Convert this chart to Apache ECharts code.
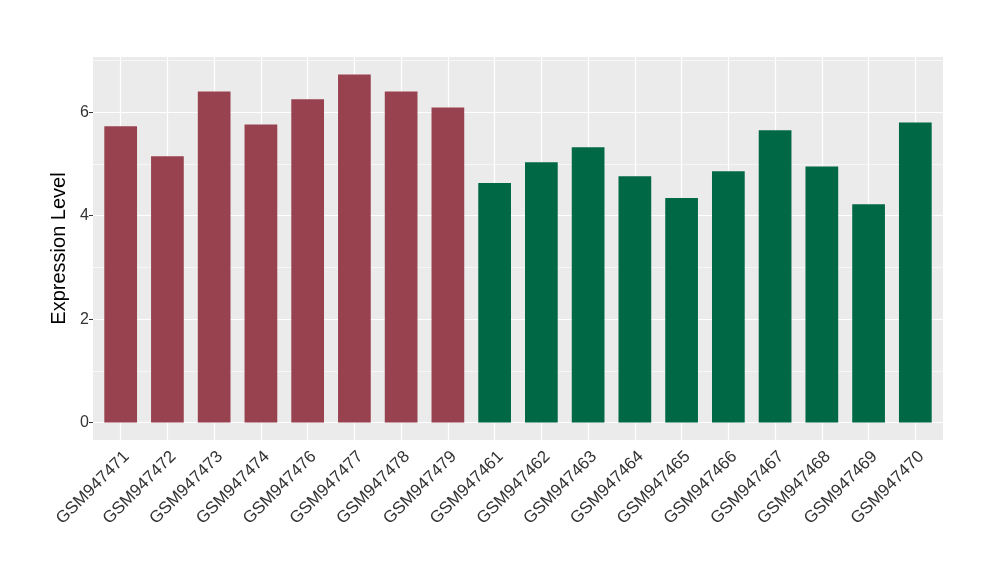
<!DOCTYPE html>
<html>
<head>
<meta charset="utf-8">
<script src="https://cdn.jsdelivr.net/npm/echarts@6/dist/echarts.min.js"></script>
<style>
html,body{margin:0;padding:0;background:#fff;}
#chart{width:1000px;height:580px;}
</style>
</head>
<body>
<div id="chart"></div>
<script>
const samples = ['GSM947471','GSM947472','GSM947473','GSM947474','GSM947476','GSM947477','GSM947478','GSM947479',
  'GSM947461','GSM947462','GSM947463','GSM947464','GSM947465','GSM947466','GSM947467','GSM947468','GSM947469','GSM947470'];
const values = [5.73,5.15,6.40,5.76,6.25,6.73,6.40,6.09,
  4.63,5.03,5.32,4.76,4.34,4.86,5.65,4.95,4.22,5.80];
const groups = ['A','A','A','A','A','A','A','A','B','B','B','B','B','B','B','B','B','B'];
const groupColors = {A:'#99424F', B:'#006845'};
const majorTicks = [0,2,4,6];
const minorTicks = [1,3,5,7];
const yTitle = 'Expression Level';
const yMin = -0.3365, yMax = 7.0665;

const FONT = '"Liberation Sans", Arial, sans-serif';
const chart = echarts.init(document.getElementById('chart'), null, {renderer:'canvas'});

const hLines = majorTicks.map(v => ({yAxis: v, lineStyle:{width:1.2, color:'#FFFFFF', type:'solid'}}))
  .concat(minorTicks.map(v => ({yAxis: v, lineStyle:{width:0.6, color:'#FFFFFF', type:'solid'}})));
const vLines = samples.map(s => ({xAxis: s, lineStyle:{width:1.2, color:'#FFFFFF', type:'solid'}}));

const labelShift = 6;

chart.setOption({
  animation: false,
  backgroundColor: '#FFFFFF',
  textStyle: {fontFamily: FONT},
  grid: [
    {left: 93, right: 57, top: 57, bottom: 140, show: true, backgroundColor: '#EBEBEB', borderWidth: 0, containLabel: false},
    {left: 97.3, right: 61.3, top: 57, bottom: 140, containLabel: false},
    {left: 97.3 + labelShift, right: 61.3 - labelShift, top: 57, bottom: 140, containLabel: false}
  ],
  xAxis: [
    {type: 'value', gridIndex: 0, min: 0, max: 1, show: false},
    {type: 'category', gridIndex: 1, data: samples,
      axisLine: {show: false},
      axisTick: {show: true, alignWithLabel: true, length: 4, lineStyle: {color: '#333333', width: 1}},
      axisLabel: {show: false},
      splitLine: {show: false}},
    {type: 'category', gridIndex: 2, data: samples,
      axisLine: {show: false},
      axisTick: {show: false},
      axisLabel: {rotate: 45, fontSize: 17, color: '#333333', margin: 14, fontFamily: FONT, interval: 0},
      splitLine: {show: false}}
  ],
  yAxis: [
    {type: 'value', gridIndex: 0, min: yMin, max: yMax,
      name: yTitle, nameLocation: 'middle', nameGap: 13, nameRotate: 90,
      nameTextStyle: {fontSize: 20, color: '#000000', fontFamily: FONT},
      axisLine: {show: false},
      axisTick: {show: true, length: 4, customValues: majorTicks, lineStyle: {color: '#333333', width: 1}},
      axisLabel: {customValues: majorTicks, fontSize: 16, color: '#333333', margin: 4, fontFamily: FONT},
      splitLine: {show: false}},
    {type: 'value', gridIndex: 1, min: yMin, max: yMax, show: false, splitLine: {show: false}},
    {type: 'value', gridIndex: 2, min: yMin, max: yMax, show: false, splitLine: {show: false}}
  ],
  series: [
    {type: 'line', xAxisIndex: 0, yAxisIndex: 0, data: [], silent: true, z: 1,
      markLine: {silent: true, symbol: 'none', z: 1, label: {show: false}, data: hLines, animation: false}},
    {type: 'line', xAxisIndex: 1, yAxisIndex: 1, data: [], silent: true, z: 1,
      markLine: {silent: true, symbol: 'none', z: 1, label: {show: false}, data: vLines, animation: false}},
    {type: 'bar', xAxisIndex: 1, yAxisIndex: 1, barWidth: '70%', z: 3,
      data: values.map((v, i) => ({value: v, itemStyle: {color: groupColors[groups[i]]}}))}
  ]
});
</script>
</body>
</html>
